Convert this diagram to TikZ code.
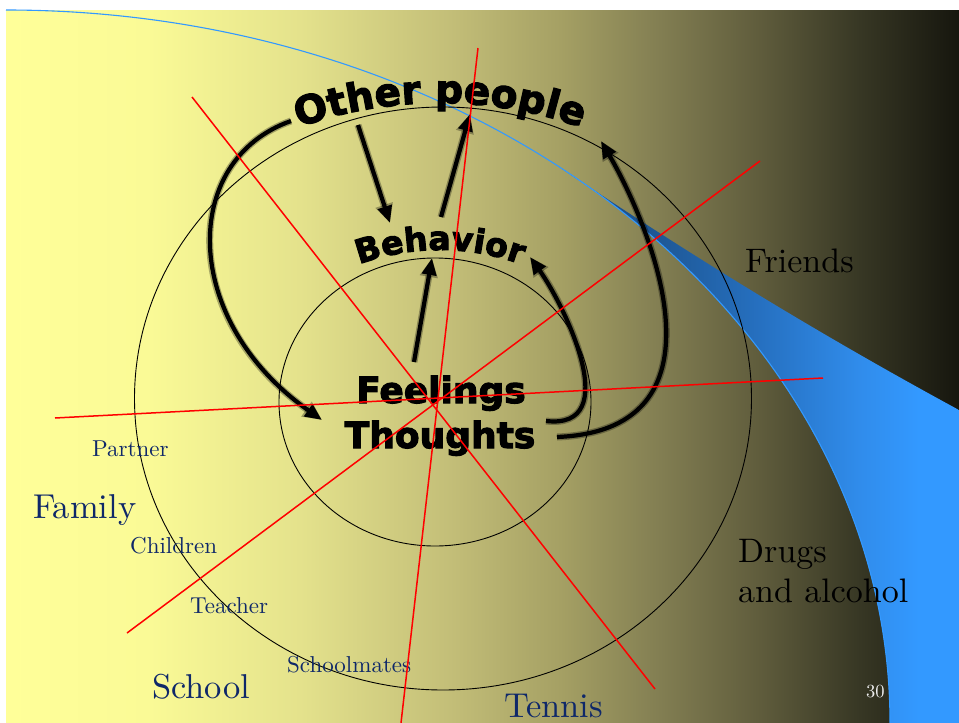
\documentclass[tikz,border=0pt]{standalone}
\usepackage{fontspec}
\usetikzlibrary{arrows.meta,decorations.text}

\newfontfamily\heavyfont[FakeBold=3]{DejaVu Sans Bold}
\newfontfamily\labelfont{lmroman10-regular.otf}

% slide background: pale yellow fading to near black
\definecolor{bgA}{RGB}{255,255,153}
\definecolor{bgB}{RGB}{250,250,150}
\definecolor{bgC}{RGB}{228,226,140}
\definecolor{bgD}{RGB}{195,190,120}
\definecolor{bgE}{RGB}{165,160,100}
\definecolor{bgF}{RGB}{130,126,82}
\definecolor{bgG}{RGB}{95,92,60}
\definecolor{bgH}{RGB}{55,55,36}
\definecolor{bgI}{RGB}{22,22,14}
\pgfdeclarehorizontalshading{slidebg}{100bp}{color(0bp)=(bgA); color(25bp)=(bgA);
  color(32.55bp)=(bgB); color(40.42bp)=(bgC); color(48.3bp)=(bgD); color(54.07bp)=(bgE);
  color(59.31bp)=(bgF); color(64.56bp)=(bgG); color(69.81bp)=(bgH); color(75bp)=(bgI);
  color(100bp)=(bgI)}

% blue swoosh
\definecolor{swA}{RGB}{24,72,128}
\definecolor{swB}{RGB}{30,88,150}
\definecolor{swC}{RGB}{38,112,192}
\definecolor{swD}{RGB}{48,140,235}
\definecolor{swE}{RGB}{51,153,255}
\pgfdeclarehorizontalshading{swoosh}{100bp}{color(0bp)=(swA); color(25bp)=(swA);
  color(37.5bp)=(swB); color(50bp)=(swC); color(62.5bp)=(swD); color(70bp)=(swE);
  color(100bp)=(swE)}

\definecolor{navy}{RGB}{15,40,105}

\begin{document}
\begin{tikzpicture}[x=1pt,y=-1pt,
  ring/.style={draw=black, line width=0.9pt},
  ray/.style={draw=red, line width=1.5pt},
  flow/.style={draw=black, line width=4.2pt, -{Triangle[length=17pt,width=14pt]},
    preaction={draw=black, opacity=0.3, line width=7pt, -{Triangle[length=19pt,width=17pt]}}},
  bigword/.style={font=\labelfont\fontsize{34.5}{34.5}\selectfont, text=navy, anchor=base west, inner sep=0pt},
  smallword/.style={font=\labelfont\fontsize{23}{23}\selectfont, text=navy, anchor=base west, inner sep=0pt},
  darkword/.style={font=\labelfont\fontsize{34}{34}\selectfont, text=black, anchor=base west, inner sep=0pt},
  heavyword/.style={font=\heavyfont\fontsize{36}{36}\selectfont, text=black, anchor=base, inner sep=0pt}]

\useasboundingbox (0,0) rectangle (959,723);
\fill[white] (0,0) rectangle (959,723);
\shade[shading=slidebg] (6,10) rectangle (959,723);

% swoosh: wedge outside the big ellipse, plus its thin rim
\shade[shading=swoosh] (959,723) -- (890,723)
  arc[start angle=0, end angle=-51.2, x radius=884, y radius=713]
  .. controls (700,262) and (830,340) .. (959,410) -- cycle;
\draw[draw={rgb,255:red,51;green,153;blue,255}, line width=1.1pt]
  (6,10) arc[start angle=-90, end angle=0, x radius=884, y radius=713];

% the two rings
\draw[ring] (443,398.5) ellipse [x radius=308.5, y radius=291.5];
\draw[ring] (435,402) ellipse [x radius=156, y radius=144];

% curved headings
\path[decorate, decoration={text along path, text align=center,
  text={|\heavyfont\fontsize{39}{39}\selectfont|Other people}}]
  (440,523) ++(-113:420) arc[start angle=-113, end angle=-67, radius=420];
\path[decorate, decoration={text along path, text align=center,
  text={|\heavyfont\fontsize{33}{33}\selectfont|Behavior}}]
  (440,485) ++(-114:235) arc[start angle=-114, end angle=-66, radius=235];

\node[heavyword] (feel) at (441,403) {Feelings};
\node[heavyword] (thought) at (440,448) {Thoughts};

% surrounding labels
\node[smallword] (partner) at (92,456) {Partner};
\node[bigword] (family) at (33,518) {Family};
\node[smallword] (children) at (130,553) {Children};
\node[smallword] (teacher) at (190,613) {Teacher};
\node[smallword] (mates) at (287,672) {Schoolmates};
\node[bigword] (school) at (152,698) {School};
\node[bigword] (tennis) at (504,717) {Tennis};
\node[darkword] (friends) at (745,272) {Friends};
\node[darkword] (drugs) at (738,562) {Drugs};
\node[darkword] (alcohol) at (738,602) {and alcohol};
\node[font=\labelfont\fontsize{18.5}{18.5}\selectfont, text={rgb,255:red,238;green,238;blue,238},
  anchor=base west, inner sep=0pt] (page) at (866,697) {30};

% arrow end points
\coordinate (oA) at (291,121);  \coordinate (fA) at (322,420);
\coordinate (oB) at (358,125);  \coordinate (bB) at (390,223);
\coordinate (bC) at (441,217);  \coordinate (oC) at (470,114);
\coordinate (fD) at (414,362);  \coordinate (bD) at (432,258);
\coordinate (fE) at (546,421);  \coordinate (bE) at (530,257);
\coordinate (tF) at (557,437);  \coordinate (oF) at (601,141);

\draw[flow] (oA) .. controls (180,160) and (180,320) .. (fA);
\draw[flow] (oB) -- (bB);
\draw[flow] (bC) -- (oC);
\draw[flow] (fD) -- (bD);
\draw[flow] (fE) .. controls (625,430) and (565,306) .. (bE);
\draw[flow] (tF) .. controls (740,430) and (646,218) .. (oF);

% red spokes through the centre
\coordinate (r1a) at (192,97);  \coordinate (r1b) at (655,689);
\coordinate (r2a) at (478,48);  \coordinate (r2b) at (401,723);
\coordinate (r3a) at (760,161); \coordinate (r3b) at (127,633);
\coordinate (r4a) at (55,418);  \coordinate (r4b) at (823,378);
\draw[ray] (r1a) -- (r1b);
\draw[ray] (r2a) -- (r2b);
\draw[ray] (r3a) -- (r3b);
\draw[ray] (r4a) -- (r4b);
\end{tikzpicture}
\end{document}
